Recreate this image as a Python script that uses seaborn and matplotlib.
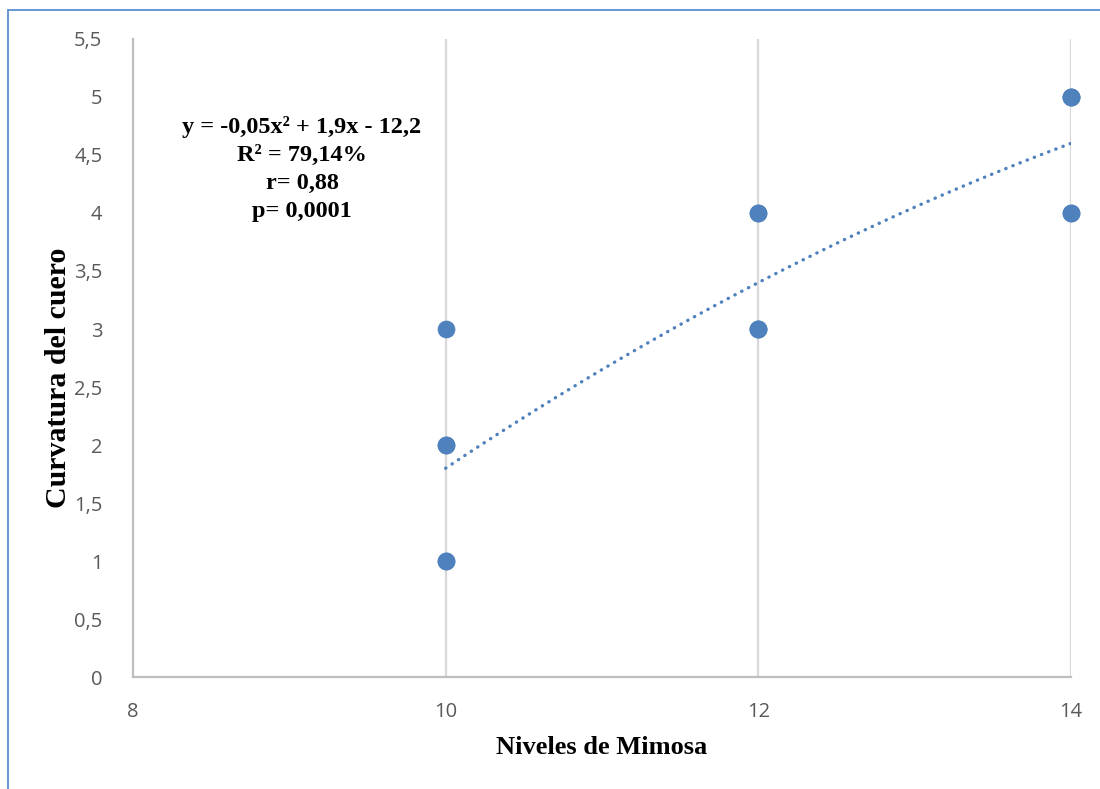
import numpy as np
import pandas as pd
import seaborn as sns
import matplotlib.pyplot as plt
from matplotlib.lines import Line2D

# datos (observaciones, algunas superpuestas)
niveles = [10, 10, 10, 10, 10, 12, 12, 12, 12, 12, 14, 14, 14, 14, 14]
curvatura = [1, 1, 2, 2, 3, 3, 3, 3, 4, 4, 4, 4, 5, 5, 5]
x_ticks = [8, 10, 12, 14]
y_ticks = [0, 0.5, 1, 1.5, 2, 2.5, 3, 3.5, 4, 4.5, 5, 5.5]
stats_text = ['y = -0,05x² + 1,9x - 12,2', 'R² = 79,14%', 'r= 0,88', 'p= 0,0001']

df = pd.DataFrame({'Niveles': niveles, 'Curvatura': curvatura})

azul = '#4F81BD'
sns.set_style('white')
plt.rcParams['font.family'] = ['Open Sans', 'DejaVu Sans']

fig = plt.figure(figsize=(11, 7.89), dpi=100)
ax = fig.add_axes([0.1209, 0.1419, 0.8527, 0.8087])

# linea de tendencia polinomica (orden 2)
sns.regplot(data=df, x='Niveles', y='Curvatura', order=2, ci=None, scatter=False,
            ax=ax, line_kws=dict(color=azul, lw=2.4, linestyle=(0, (0.1, 2.2)),
                                 dash_capstyle='round', zorder=2))
sns.scatterplot(data=df, x='Niveles', y='Curvatura', ax=ax, color=azul, s=150,
                edgecolor=azul, linewidth=0.5, zorder=3, clip_on=False)

ax.set_xlim(8, 14)
ax.set_ylim(0, 5.5)
ax.set_xticks(x_ticks)
ax.set_yticks(y_ticks)
ax.set_xticklabels([str(v) for v in x_ticks])
ax.set_yticklabels([('%g' % v).replace('.', ',') for v in y_ticks])
ax.tick_params(axis='both', length=0, labelsize=14.5, labelcolor='#595959')
ax.tick_params(axis='y', pad=22)
ax.tick_params(axis='x', pad=18)

ax.grid(axis='x', color='#D9D9D9', lw=1.6)
ax.grid(axis='y', visible=False)
ax.set_axisbelow(True)
for s in ['top', 'right']:
    ax.spines[s].set_visible(False)
for s in ['left', 'bottom']:
    ax.spines[s].set_color('#BFBFBF')
    ax.spines[s].set_linewidth(1.6)

ax.set_xlabel('')
ax.set_ylabel('')
fig.text(602 / 1100, 1 - 748 / 789, 'Niveles de Mimosa', ha='center', va='center',
         family='Liberation Serif', fontweight='bold', fontsize=19, color='black')
fig.text(58 / 1100, 1 - 378 / 789, 'Curvatura del cuero', ha='center', va='center',
         rotation=90, family='Liberation Serif', fontweight='bold', fontsize=21.5,
         color='black')

for i, t in enumerate(stats_text):
    fig.text(302 / 1100, 1 - (127 + i * 28) / 789, t, ha='center', va='center',
             family='Liberation Serif', fontweight='bold', fontsize=17.5, color='black')

# borde del area del grafico
fig.add_artist(Line2D([8 / 1100, 8 / 1100], [0, 1 - 10 / 789], color='#5B8FD0', lw=1.3))
fig.add_artist(Line2D([8 / 1100, 1], [1 - 10 / 789, 1 - 10 / 789], color='#5B8FD0', lw=1.3))

fig.savefig('out.png', dpi=100)
